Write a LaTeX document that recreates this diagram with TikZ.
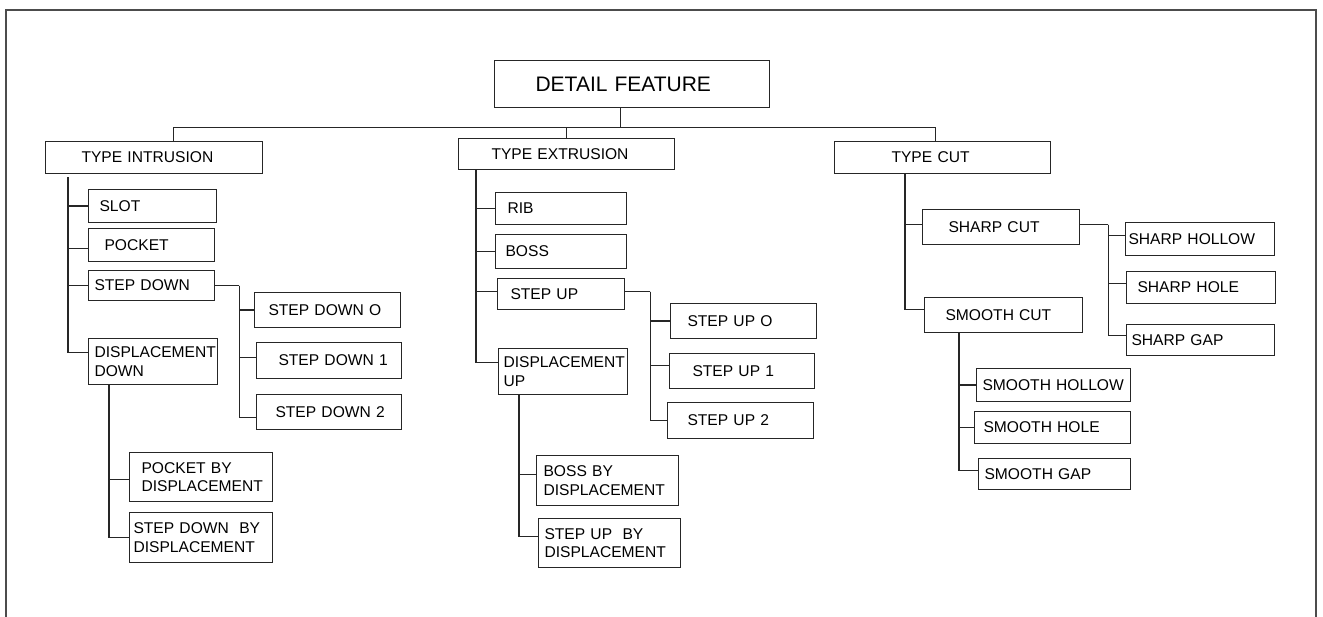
\documentclass[tikz,border=0pt]{standalone}
\usepackage{fontspec}
\setmainfont{Liberation Sans}

\begin{document}
\begin{tikzpicture}[x=1pt,y=-1pt,
  featbox/.style={draw=black!85,line width=1.1pt,anchor=north west,align=left,
    inner xsep=1pt,inner ysep=0pt,font=\fontsize{15.6}{18.4}\selectfont},
  link/.style={draw=black!85,line width=1.1pt}]
  \useasboundingbox (0,0) rectangle (1323,617);
  \draw[black!70,line width=2pt] (6,617) -- (6,10.5) -- (1315.5,10.5) -- (1315.5,617);

  % root and the three types
  \node[featbox,text width=273pt,minimum height=47pt,font=\fontsize{21}{24}\selectfont] (detail) at (494,60) {\hspace*{40pt}DETAIL FEATURE};
  \node[featbox,text width=215pt,minimum height=32pt] (tin) at (45,141) {\hspace*{35pt}TYPE INTRUSION};
  \node[featbox,text width=214pt,minimum height=31pt] (tex) at (458,138) {\hspace*{32pt}TYPE EXTRUSION};
  \node[featbox,text width=214pt,minimum height=32pt] (tcut) at (834,141) {\hspace*{56pt}TYPE CUT};

  % intrusion
  \node[featbox,text width=126pt,minimum height=33pt] (slot) at (88,189) {\hspace*{10pt}SLOT};
  \node[featbox,text width=124pt,minimum height=33pt] (pocket) at (88,228) {\hspace*{15pt}POCKET};
  \node[featbox,text width=124pt,minimum height=30pt] (sdown) at (88,270) {\hspace*{5pt}STEP DOWN};
  \node[featbox,text width=127pt,minimum height=46pt] (ddown) at (88,338) {\hspace*{5pt}DISPLACEMENT\\\hspace*{5pt}DOWN};
  \node[featbox,text width=144pt,minimum height=35pt] (sd0) at (254,292) {\hspace*{13pt}STEP DOWN O};
  \node[featbox,text width=143pt,minimum height=36pt] (sd1) at (256,342) {\hspace*{21pt}STEP DOWN 1};
  \node[featbox,text width=143pt,minimum height=35pt] (sd2) at (256,394) {\hspace*{18pt}STEP DOWN 2};
  \node[featbox,text width=141pt,minimum height=49pt] (pbd) at (129,452) {\hspace*{11pt}POCKET BY\\\hspace*{11pt}DISPLACEMENT};
  \node[featbox,text width=141pt,minimum height=50pt] (sdbd) at (129,512) {\hspace*{3pt}STEP DOWN\ \ BY\\\hspace*{3pt}DISPLACEMENT};

  % extrusion
  \node[featbox,text width=129pt,minimum height=32pt] (rib) at (495,192) {\hspace*{11pt}RIB};
  \node[featbox,text width=129pt,minimum height=34pt] (boss) at (495,234) {\hspace*{9pt}BOSS};
  \node[featbox,text width=125pt,minimum height=31pt] (sup) at (497,278) {\hspace*{12pt}STEP UP};
  \node[featbox,text width=127pt,minimum height=46pt] (dup) at (498,348) {\hspace*{4pt}DISPLACEMENT\\\hspace*{4pt}UP};
  \node[featbox,text width=144pt,minimum height=35pt] (su0) at (670,303) {\hspace*{16pt}STEP UP O};
  \node[featbox,text width=143pt,minimum height=35pt] (su1) at (669,353) {\hspace*{22pt}STEP UP 1};
  \node[featbox,text width=144pt,minimum height=36pt] (su2) at (667,402) {\hspace*{19pt}STEP UP 2};
  \node[featbox,text width=140pt,minimum height=50pt] (bbd) at (536,455) {\hspace*{6pt}BOSS BY\\\hspace*{6pt}DISPLACEMENT};
  \node[featbox,text width=140pt,minimum height=49pt] (subd) at (538,518) {\hspace*{5pt}STEP UP\ \ BY\\\hspace*{5pt}DISPLACEMENT};

  % cut
  \node[featbox,text width=155pt,minimum height=35pt] (scut) at (922,209) {\hspace*{25pt}SHARP CUT};
  \node[featbox,text width=156pt,minimum height=35pt] (smcut) at (924,297) {\hspace*{20pt}SMOOTH CUT};
  \node[featbox,text width=147pt,minimum height=33pt] (shol) at (1125,222) {\hspace*{2pt}SHARP HOLLOW};
  \node[featbox,text width=147pt,minimum height=32pt] (shole) at (1126,271) {\hspace*{10pt}SHARP HOLE};
  \node[featbox,text width=146pt,minimum height=31pt] (sgap) at (1126,324) {\hspace*{4pt}SHARP GAP};
  \node[featbox,text width=152pt,minimum height=33pt] (smhol) at (976,368) {\hspace*{5pt}SMOOTH HOLLOW};
  \node[featbox,text width=154pt,minimum height=32pt] (smhole) at (974,411) {\hspace*{8pt}SMOOTH HOLE};
  \node[featbox,text width=150pt,minimum height=31pt] (smgap) at (978,458) {\hspace*{5pt}SMOOTH GAP};

  % bus
  \coordinate (bus) at ([xshift=-11.5pt,yshift=-19pt]detail.south);
  \draw[link] ([xshift=-11.5pt]detail.south) -- (bus);
  \draw[link] (bus) -| ([xshift=19.5pt]tin.north);
  \draw[link] (bus) -| (tex.north);
  \draw[link] (bus) -| ([xshift=-7pt]tcut.north);

  % intrusion links
  \draw[link] ([xshift=23pt,yshift=-3pt]tin.south west) |- (slot.west);
  \draw[link] ([xshift=23pt,yshift=-3pt]tin.south west) |- ([yshift=-3.5pt]pocket.west);
  \draw[link] ([xshift=23pt,yshift=-3pt]tin.south west) |- (sdown.west);
  \draw[link] ([xshift=23pt,yshift=-3pt]tin.south west) |- ([yshift=9pt]ddown.west);
  \draw[link] (sdown.east) -- ++(24,0) coordinate (sdj);
  \draw[link] (sdj) |- (sd0.west);
  \draw[link] (sdj) |- ([yshift=3pt]sd1.west);
  \draw[link] (sdj) |- ([yshift=-5.5pt]sd2.west);
  \draw[link] ([xshift=21pt]ddown.south west) |- ([yshift=-2.5pt]pbd.west);
  \draw[link] ([xshift=21pt]ddown.south west) |- (sdbd.west);

  % extrusion links
  \draw[link] ([xshift=18pt]tex.south west) |- (rib.west);
  \draw[link] ([xshift=18pt]tex.south west) |- (boss.west);
  \draw[link] ([xshift=18pt]tex.south west) |- ([yshift=2.5pt]sup.west);
  \draw[link] ([xshift=18pt]tex.south west) |- ([yshift=9pt]dup.west);
  \draw[link] ([yshift=2.5pt]sup.east) -- ++(25,0) coordinate (suj);
  \draw[link] (suj) |- (su0.west);
  \draw[link] (suj) |- ([yshift=5.5pt]su1.west);
  \draw[link] (suj) |- (su2.west);
  \draw[link] ([xshift=21pt]dup.south west) |- ([yshift=6pt]bbd.west);
  \draw[link] ([xshift=21pt]dup.south west) |- ([yshift=6.5pt]subd.west);

  % cut links
  \draw[link] ([xshift=71pt]tcut.south west) |- ([yshift=2.5pt]scut.west);
  \draw[link] ([xshift=71pt]tcut.south west) |- ([yshift=5.5pt]smcut.west);
  \draw[link] ([yshift=2.5pt]scut.east) -- ++(28,0) coordinate (scj);
  \draw[link] (scj) |- ([yshift=3.5pt]shol.west);
  \draw[link] (scj) |- ([yshift=4pt]shole.west);
  \draw[link] (scj) |- ([yshift=4.5pt]sgap.west);
  \draw[link] ([xshift=35pt]smcut.south west) |- (smhol.west);
  \draw[link] ([xshift=35pt]smcut.south west) |- (smhole.west);
  \draw[link] ([xshift=35pt]smcut.south west) |- ([yshift=3.5pt]smgap.west);
\end{tikzpicture}
\end{document}
